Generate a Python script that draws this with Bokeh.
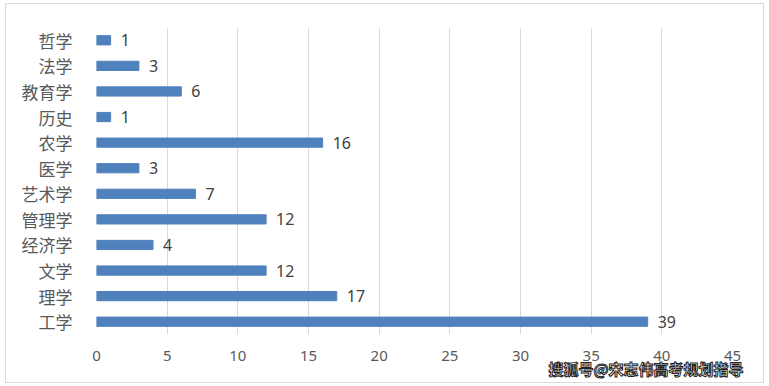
from bokeh.plotting import figure
from bokeh.models import ColumnDataSource, LabelSet, Title, FixedTicker
from bokeh.embed import file_html
from bokeh.resources import INLINE
from bokeh.core.properties import value

categories = ["工学", "理学", "文学", "经济学", "管理学", "艺术学", "医学", "农学", "历史", "教育学", "法学", "哲学"]
counts = [39, 17, 12, 4, 12, 7, 3, 16, 1, 6, 3, 1]
x_ticks = [0, 5, 10, 15, 20, 25, 30, 35, 40, 45]
watermark = "搜狐号@宋志伟高考规划指导"

src = ColumnDataSource(dict(cat=categories, n=counts, lab=[str(v) for v in counts]))

p = figure(width=759, height=380, y_range=categories, x_range=(0, 45),
           output_backend="svg", toolbar_location=None,
           min_border_left=90, min_border_right=33, min_border_top=23, min_border_bottom=50)
p.margin = (3, 5, 3, 5)
p.styles = {"border": "1px solid #d9d9d9"}
p.outline_line_color = None

p.hbar(y="cat", right="n", left=0, height=0.36, color="#4f81bd", source=src)

p.add_layout(LabelSet(x="n", y="cat", text="lab", source=src, x_offset=10,
                      text_baseline="middle", text_font_size="16px",
                      text_color="#404040", text_font=value("Noto Sans")))

p.xaxis.ticker = FixedTicker(ticks=x_ticks)
p.xgrid.ticker = FixedTicker(ticks=x_ticks)
p.xgrid.grid_line_color = "#d9d9d9"
p.xgrid.grid_line_width = 1
p.ygrid.grid_line_color = None

for ax in (p.xaxis, p.yaxis):
    ax.axis_line_color = None
    ax.major_tick_line_color = None
    ax.minor_tick_line_color = None
    ax.major_label_text_color = "#595959"

p.xaxis.major_label_text_font_size = "15px"
p.xaxis.major_label_text_font = "Noto Sans"
p.xaxis.major_label_standoff = 10
p.yaxis.major_label_text_font_size = "17px"
p.yaxis.major_label_text_font = "Noto Sans CJK SC"
p.yaxis.major_label_standoff = 18

wm = Title(text=watermark, align="left", offset=452, standoff=-16,
           text_font="Noto Sans CJK SC", text_font_size="15px", text_font_style="bold",
           text_color="#ffffff", text_outline_color="#222222")
p.add_layout(wm, "below")

open("out.html", "w").write(file_html(p, INLINE))
